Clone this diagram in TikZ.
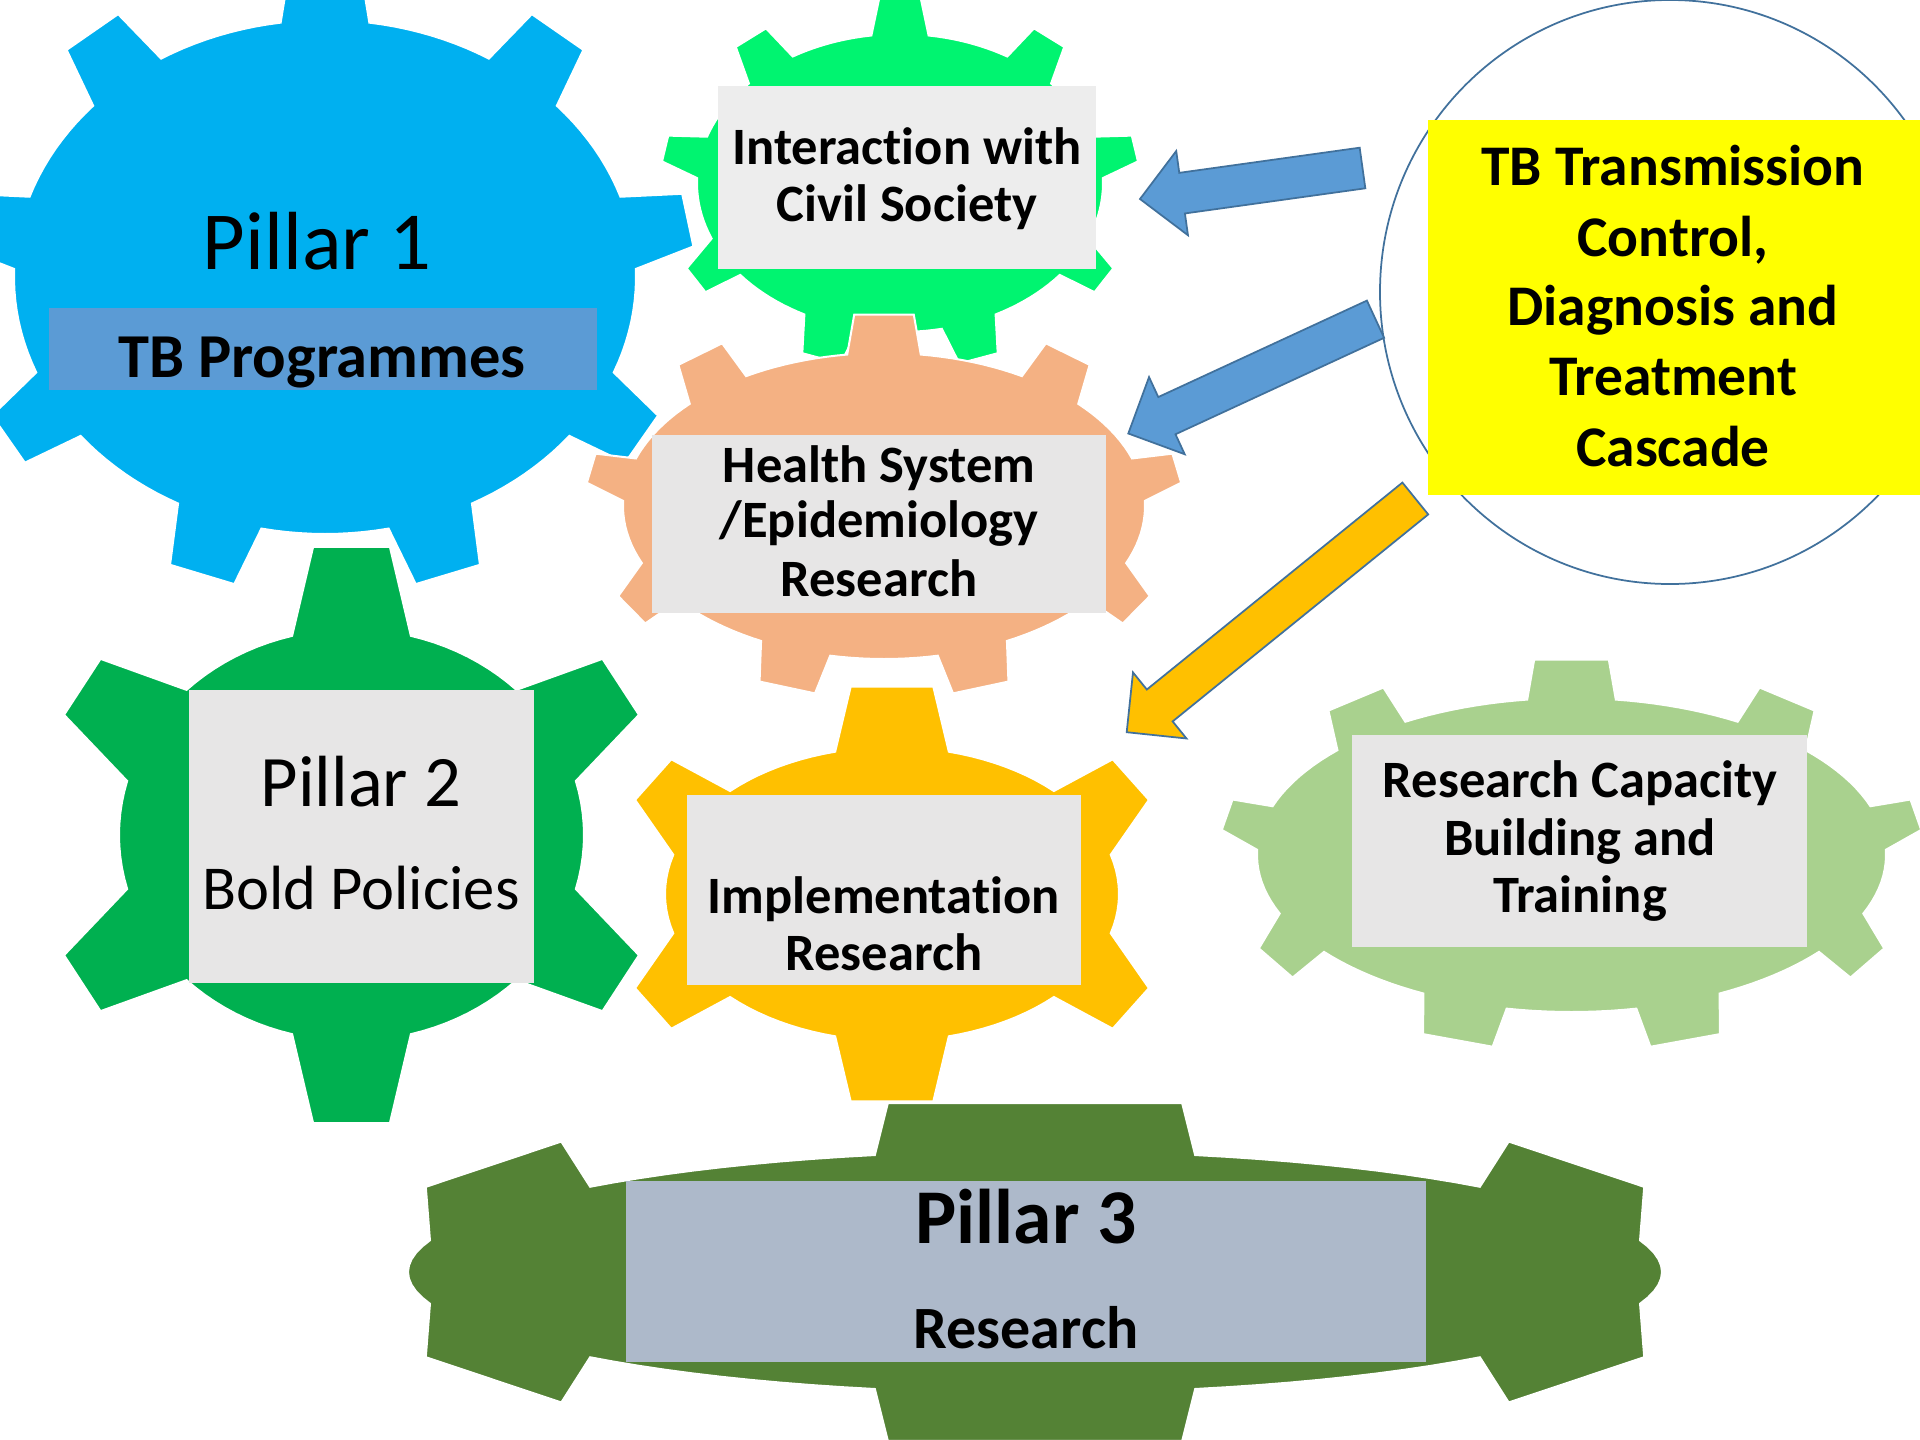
\documentclass[tikz,border=0pt]{standalone}
\usepackage{fontspec}
\setmainfont{Carlito}[RawFeature={-liga;-clig;-dlig}]
\usetikzlibrary{calc,shapes.geometric}
\definecolor{cBlue}{HTML}{00B0F0}
\definecolor{cBright}{HTML}{00F470}
\definecolor{cOrange}{HTML}{F4B183}
\definecolor{cPtwo}{HTML}{00B050}
\definecolor{cYel}{HTML}{FFC000}
\definecolor{cLG}{HTML}{A9D18E}
\definecolor{cPthree}{HTML}{548235}
\definecolor{cBoxBlue}{HTML}{5B9BD5}
\definecolor{cGray}{HTML}{E7E6E6}
\definecolor{cGrayL}{HTML}{EDEDED}
\definecolor{cBoxP}{HTML}{ADB9CA}
\definecolor{cYellow}{HTML}{FFFF00}
\definecolor{cEdge}{HTML}{41719C}
\definecolor{cArrBlue}{HTML}{5B9BD5}

\tikzset{
  gearline/.style={draw=white, line width=0.8pt, line join=miter},
  panel/.style={inner sep=0pt, outer sep=0pt, draw=none},
  txt/.style={anchor=base, inner sep=0pt, text=black},
  blockarrow/.style={draw=cEdge, line width=0.7pt, line join=miter},
  small/.style={font=\bfseries\fontsize{21}{25}\selectfont},
}

% #1 cx, #2 cy, #3 rx, #4 ry, #5 tooth height, #6 teeth, #7 first angle, #8 half angle, #9 taper
\newcommand\mkgear[9]{%
  \gdef\gp{}%
  \pgfmathsetmacro\gstep{360/#6}%
  \pgfmathsetmacro\garc{(\gstep-2*#8)/10}%
  \foreach \gi in {1,...,#6}{%
    \pgfmathsetmacro\gtc{#7+(\gi-1)*\gstep}%
    \pgfmathsetmacro\gta{\gtc-#8}%
    \pgfmathsetmacro\gtb{\gtc+#8}%
    \pgfmathsetmacro\gbax{#1+#3*cos(\gta)}%
    \pgfmathsetmacro\gbay{#2+#4*sin(\gta)}%
    \pgfmathsetmacro\gbbx{#1+#3*cos(\gtb)}%
    \pgfmathsetmacro\gbby{#2+#4*sin(\gtb)}%
    \pgfmathsetmacro\gnx{cos(\gtc)*#4/100}%
    \pgfmathsetmacro\gny{sin(\gtc)*#3/100}%
    \pgfmathsetmacro\gnl{veclen(\gnx,\gny)}%
    \pgfmathsetmacro\gnx{\gnx/\gnl}%
    \pgfmathsetmacro\gny{\gny/\gnl}%
    \pgfmathsetmacro\gux{(\gbbx-\gbax)/100}%
    \pgfmathsetmacro\guy{(\gbby-\gbay)/100}%
    \pgfmathsetmacro\gul{veclen(\gux,\guy)}%
    \pgfmathsetmacro\gux{\gux/\gul}%
    \pgfmathsetmacro\guy{\guy/\gul}%
    \pgfmathsetmacro\gtax{\gbax+#5*\gnx+#9*\gux}%
    \pgfmathsetmacro\gtay{\gbay+#5*\gny+#9*\guy}%
    \pgfmathsetmacro\gtbx{\gbbx+#5*\gnx-#9*\gux}%
    \pgfmathsetmacro\gtby{\gbby+#5*\gny-#9*\guy}%
    \xdef\gp{\gp (\gbax,\gbay) -- (\gtax,\gtay) -- (\gtbx,\gtby) -- (\gbbx,\gbby) -- }%
    \foreach \gk in {1,...,9}{%
      \pgfmathsetmacro\gtk{\gtb+\gk*\garc}%
      \pgfmathsetmacro\gkx{#1+#3*cos(\gtk)}%
      \pgfmathsetmacro\gky{#2+#4*sin(\gtk)}%
      \xdef\gp{\gp (\gkx,\gky) -- }%
    }%
  }%
}
\newcommand\fillgear[1]{\edef\gtmp{\noexpand\path[gearline,fill=#1] \gp cycle;}\gtmp}

% block arrow from tail (#2) to tip (#1)
\newcommand\barrow[3]{%
  \coordinate (#1hb) at ($(#1)!17pt!(#2)$);
  \path[blockarrow, fill=#3] (#1)
    -- ($(#1hb)!17pt!90:(#1)$)
    -- ($(#1hb)!8.2pt!90:(#1)$)
    -- ($(#2)!8.2pt!90:(#1)$)
    -- ($(#2)!8.2pt!-90:(#1)$)
    -- ($(#1hb)!8.2pt!-90:(#1)$)
    -- ($(#1hb)!17pt!-90:(#1)$)
    -- cycle;
}

\begin{document}
\begin{tikzpicture}[x=0.4pt,y=-0.4pt]
\useasboundingbox (0,0) rectangle (1920,1440);
\clip (0,0) rectangle (1920,1440);
\fill[white] (0,0) rectangle (1920,1440);

% Pillar 1
\mkgear{325}{277}{311}{257}{61}{9}{-90}{8.2}{10}\fillgear{cBlue}
\node[txt,font=\fontsize{33}{40}\selectfont] (p1t) at (317,269) {Pillar 1};
\node[panel,fill=cBoxBlue,minimum width=219.2pt,minimum height=32.8pt] (p1box) at (323,349) {};
\node[txt,font=\bfseries\fontsize{25}{30}\selectfont] (p1s) at (322,377) {TB Programmes};

% Interaction with civil society
\mkgear{900}{183}{203}{149}{38}{9}{-90}{8.1}{8}\fillgear{cBright}
\node[panel,fill=cGrayL,minimum width=151.2pt,minimum height=73.2pt] (civbox) at (907,177.5) {};
\node[txt,small] (civa) at (907,164) {Interac\kern0pt tion with};
\node[txt,small] (civb) at (907,221) {Civil Society};

% Health system
\mkgear{884}{506}{261}{153}{40}{9}{-90}{8.1}{7}\fillgear{cOrange}
\node[panel,fill=cGray,minimum width=181.6pt,minimum height=71.2pt] (hsbox) at (879,524) {};
\node[txt,small] (hsa) at (879,482) {Health System};
\node[txt,small] (hsb) at (879,537) {/Epidemiology};
\node[txt,small] (hsc) at (879,596) {Research};

% Pillar 2
\mkgear{351.5}{835}{232.5}{206}{89}{6}{-90}{14.8}{21}\fillgear{cPtwo}
\node[panel,fill=cGray,minimum width=138pt,minimum height=117.2pt] (p2box) at (361.5,836.5) {};
\node[txt,font=\fontsize{29}{35}\selectfont] (p2t) at (361,806) {Pillar 2};
\node[txt,font=\fontsize{25}{30}\selectfont] (p2s) at (361,909) {Bold Policies};

% Implementation research
\mkgear{892}{894}{227}{147}{65}{6}{-90}{14.5}{15.5}\fillgear{cYel}
\node[panel,fill=cGray,minimum width=157.6pt,minimum height=76pt] (imbox) at (884,890) {};
\node[txt,small] (ima) at (884,913) {Implementa\kern0pt tion};
\node[txt,small] (imb) at (884,970) {Research};

% Research capacity
\mkgear{1571.5}{855}{314.5}{157}{40}{9}{-90}{8.1}{7}\fillgear{cLG}
\node[panel,fill=cGray,minimum width=182pt,minimum height=84.8pt] (rcbox) at (1579.5,841) {};
\node[txt,small] (rca) at (1580,797) {Research Capacity};
\node[txt,small] (rcb) at (1580,855) {Building and};
\node[txt,small] (rcc) at (1580,912) {Training};

% Pillar 3
\mkgear{1035}{1272}{627}{121}{52}{6}{-90}{14.8}{13}\fillgear{cPthree}
\node[panel,fill=cBoxP,minimum width=320pt,minimum height=72.4pt] (p3box) at (1026,1271.5) {};
\node[txt,font=\bfseries\fontsize{31}{37}\selectfont] (p3t) at (1026,1243) {Pillar 3};
\node[txt,font=\bfseries\fontsize{24}{29}\selectfont] (p3s) at (1026,1348) {Research};

% TB cascade
\node[ellipse,draw=cEdge,line width=0.7pt,inner sep=0pt,outer sep=0pt,minimum width=232pt,minimum height=233.6pt] (circ) at (1670,292) {};
\node[panel,fill=cYellow,minimum width=196.8pt,minimum height=150pt] (tbbox) at (1674,307.5) {};
\begin{scope}[every node/.style={txt,font=\bfseries\fontsize{23}{28}\selectfont}]
\node (tba) at (1673,185) {TB Transmission};
\node (tbb) at (1673,256) {Control,};
\node (tbc) at (1673,325) {Diagnosis and};
\node (tbd) at (1673,395) {Treatment};
\node (tbe) at (1673,466) {Cascade};
\end{scope}

% arrows
\coordinate (aone) at (1140,199);
\coordinate (aonetail) at (1362.5,168);
\coordinate (atwo) at (1128.3,433.5);
\coordinate (atwotail) at (1375.5,319.2);
\coordinate (athree) at (1126.7,732.2);
\coordinate (athreetail) at (1415.3,498.5);
\barrow{aone}{aonetail}{cArrBlue}
\barrow{atwo}{atwotail}{cArrBlue}
\barrow{athree}{athreetail}{cYel}
\end{tikzpicture}
\end{document}
